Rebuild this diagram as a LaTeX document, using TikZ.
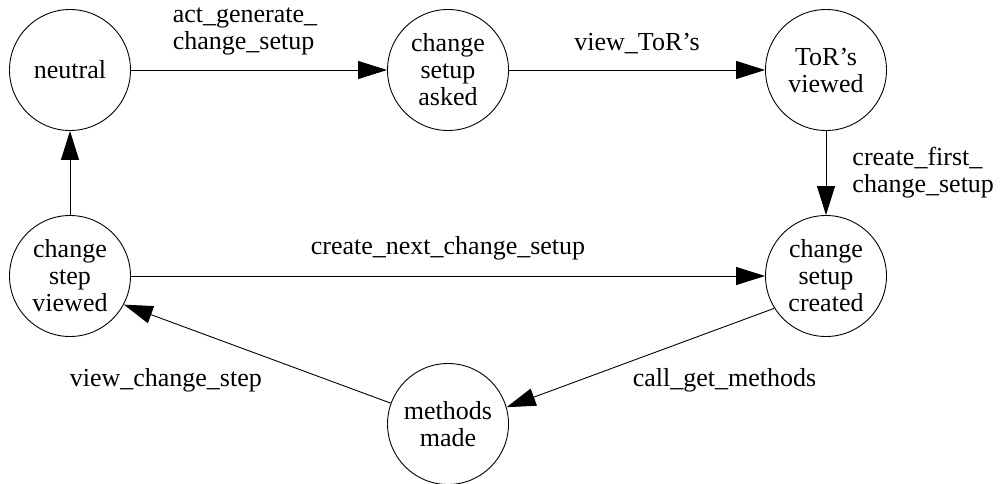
\documentclass[tikz,border=0pt]{standalone}
\usepackage{fontspec}
\setmainfont{Liberation Serif}
\usetikzlibrary{arrows.meta}

\tikzset{
  state/.style={draw, circle, line width=0.9pt, minimum size=121pt, inner sep=0pt, align=center},
  trans/.style={line width=0.9pt, -{Triangle[length=29pt, width=18pt]}},
  lbl/.style={inner sep=2pt, align=left}
}

\begin{document}
\begin{tikzpicture}[x=1pt, y=-1pt, font=\fontsize{26}{27}\selectfont]
\useasboundingbox (0,0) rectangle (1003,484);

% states
\node[state] (neutral) at (70,70) {neutral};
\node[state] (asked) at (448,70) {change\\setup\\asked};
\node[state] (torv) at (826,70) {ToR's\\viewed};
\node[state] (created) at (826,276) {change\\setup\\created};
\node[state] (stepv) at (70,276) {change\\step\\viewed};
\node[state] (methods) at (448,424) {methods\\made};

% top row
\draw[trans] (neutral) -- (asked) node[lbl, midway, above, xshift=-14pt, yshift=12pt] {act\_generate\_\\change\_setup};
\draw[trans] (asked) -- (torv) node[lbl, midway, above, yshift=14pt] {view\_ToR's};
\draw[trans] (torv) -- (created) node[lbl, midway, right, xshift=24pt] {create\_first\_\\change\_setup};

% middle row
\draw[trans] (stepv) -- (created) node[lbl, midway, above, yshift=13pt] {create\_next\_change\_setup};
\draw[trans] (stepv) -- (neutral);

% down to methods and back
\draw[trans] (created.212) -- (methods.16) node[lbl, midway, below right, xshift=-10pt, yshift=-8pt] {call\_get\_methods};
\draw[trans] (methods.160) -- (stepv.332) node[lbl, midway, below left, xshift=7pt, yshift=-12pt] {view\_change\_step};
\end{tikzpicture}
\end{document}
